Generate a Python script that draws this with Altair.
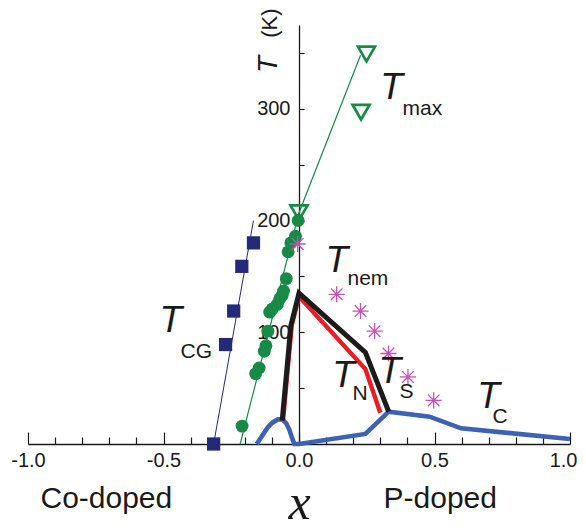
import altair as alt
import pandas as pd

# ---------------- data ----------------
# T_C (blue thick line)
tc_x = [-0.156, -0.134, -0.115, -0.097, -0.078, -0.062, -0.047, -0.035, -0.025, -0.017,
        0.0, 0.245, 0.331, 0.482, 0.598, 1.0]
tc_T = [0, 8, 15, 19.3, 22, 22, 18.5, 12.5, 5, 0,
        0, 9, 29, 24.5, 14, 4.5]

# T_S (black line) and T_N (red line)
ts_x = [-0.062, -0.030, 0.0, 0.245, 0.331]
ts_T = [21, 106, 135, 82, 29]
tn_x = [-0.059, -0.027, 0.0, 0.245, 0.300]
tn_T = [21, 106, 132, 67, 28]

# T_CG (navy squares) and its guide line
cg_x = [-0.315, -0.271, -0.241, -0.211, -0.168]
cg_T = [0, 89, 119, 159, 180]
cg_line_x = [-0.315, -0.168]
cg_line_T = [0, 200]

# green filled dots
gd_x = [-0.210, -0.160, -0.147, -0.128, -0.122, -0.115, -0.108, -0.098, -0.080,
        -0.071, -0.062, -0.057, -0.047, -0.040, -0.030, -0.013, -0.003]
gd_T = [16, 63, 68, 83, 88, 101, 118, 121, 125,
        130, 133, 137, 148, 172, 180, 186, 200]

# green guide line and T_max (open triangles)
gl_x = [-0.217, 0.0, 0.227]
gl_T = [0, 207, 348]
tmax_x = [0.249, 0.229, 0.0]
tmax_T = [349, 297, 207]

# T_nem (magenta asterisks)
nem_x = [-0.005, 0.139, 0.227, 0.279, 0.330, 0.402, 0.497]
nem_T = [179, 134, 119, 101, 81, 60, 39]

# axis ticks
x_label_vals = [-1.0, -0.5, 0.0, 0.5, 1.0]
x_tick_vals = [-1.0, -0.9, -0.8, -0.7, -0.6, -0.5, -0.4, -0.3, -0.2, -0.1, 0.0,
               0.1, 0.2, 0.3, 0.4, 0.5, 0.6, 0.7, 0.8, 0.9, 1.0]
y_label_vals = [100, 200, 300]
y_tick_vals = [50, 100, 150, 200, 250, 300, 350]

# annotation texts
big_T_text = ["T", "T", "T", "T", "T", "T"]
big_T_x = [0.300, -0.515, 0.098, 0.123, 0.293, 0.658]
big_T_y = [308.8, 100.2, 153.9, 51.0, 54.6, 32.2]
sub_text = ["max", "CG", "nem", "N", "S", "C"]
sub_x = [0.382, -0.437, 0.179, 0.197, 0.371, 0.714]
sub_y = [294.5, 77.0, 142.3, 39.4, 41.2, 18.8]
side_text = ["Co-doped", "P-doped"]
side_x = [-0.954, 0.312]
side_y = [-57.3, -57.3]

# ---------------- styling ----------------
W, H = 542, 419
BLUE = "#3d62b3"
BLACK = "#1c1a1a"
RED = "#ec1c24"
GREEN = "#178a45"
NAVY = "#232a7a"
MAGENTA = "#c454b4"
INK = "#1a1a1a"
SANS = "Liberation Sans"

xs = alt.Scale(domain=[-1.0, 1.0], nice=False, zero=False)
ys = alt.Scale(domain=[0, 375], nice=False, zero=False)


def xe(axis=None):
    return alt.X("x:Q", scale=xs, axis=axis, title=None)


def ye(axis=None):
    return alt.Y("T:Q", scale=ys, axis=axis, title=None)


def df(x, T, **extra):
    d = {"x": x, "T": T}
    d.update(extra)
    return pd.DataFrame(d)


LAST = "datum.value > 0.99"

# axes
x_axis_labels = alt.Axis(orient="bottom", values=x_label_vals, ticks=False, tickSize=0,
                         labelPadding=6, labelFont=SANS, labelFontSize=20, labelColor=INK,
                         labelFlush=False, labelOverlap=False,
                         labelAlign={"condition": {"test": LAST, "value": "right"}, "value": "center"},
                         labelOffset={"condition": {"test": LAST, "value": 7}, "value": 0},
                         labelExpr="(datum.value < 0 ? '-' : '') + format(abs(datum.value), '.1f')",
                         domain=True, domainColor=INK, domainWidth=1.3, grid=False)
y_axis_labels = alt.Axis(orient="left", offset=-271, values=y_label_vals, ticks=False, tickSize=0,
                         labelPadding=9, labelFont=SANS, labelFontSize=20, labelColor=INK,
                         labelOverlap=False, domain=True, domainColor=INK, domainWidth=1.3,
                         grid=False)
x_axis_ticks = alt.Axis(orient="top", offset=-H, values=x_tick_vals, labels=False, domain=False,
                        ticks=True, tickColor=INK, tickWidth=1.2,
                        tickSize={"condition": {"test": "abs(datum.value*2 - round(datum.value*2)) < 0.001",
                                                "value": 12}, "value": 7},
                        grid=False)
y_axis_ticks = alt.Axis(orient="right", offset=-271, values=y_tick_vals, labels=False, domain=False,
                        ticks=True, tickColor=INK, tickWidth=1.2, tickSize=5, grid=False)

# lines
cg_line = alt.Chart(df(cg_line_x, cg_line_T)).mark_line(color=NAVY, strokeWidth=1).encode(
    x=xe(), y=ye(), order="x:Q")
green_line = alt.Chart(df(gl_x, gl_T)).mark_line(color=GREEN, strokeWidth=1.2).encode(
    x=xe(), y=ye(), order="x:Q")
blue_line = alt.Chart(df(tc_x, tc_T, i=list(range(len(tc_x))))).mark_line(
    color=BLUE, strokeWidth=4.6).encode(x=xe(x_axis_labels), y=ye(y_axis_labels), order="i:Q")
red_line = alt.Chart(df(tn_x, tn_T, i=list(range(len(tn_x))))).mark_line(
    color=RED, strokeWidth=4.4).encode(x=xe(), y=ye(), order="i:Q")
black_line = alt.Chart(df(ts_x, ts_T, i=list(range(len(ts_x))))).mark_line(
    color=BLACK, strokeWidth=5).encode(x=xe(x_axis_ticks), y=ye(y_axis_ticks), order="i:Q")

# points
squares = alt.Chart(df(cg_x, cg_T)).mark_point(shape="square", filled=True, size=175,
                                                color=NAVY, opacity=1).encode(x=xe(), y=ye())
dots = alt.Chart(df(gd_x, gd_T)).mark_circle(size=165, color=GREEN, opacity=1).encode(
    x=xe(), y=ye())
tris = alt.Chart(df(tmax_x, tmax_T)).mark_point(shape="triangle-down", filled=False, size=290,
                                                 strokeWidth=2.7, color=GREEN, opacity=1).encode(
    x=xe(), y=ye())
STAR = "M0,-1L0,1M-1,0L1,0M-0.72,-0.72L0.72,0.72M-0.72,0.72L0.72,-0.72"
stars = alt.Chart(df(nem_x, nem_T)).mark_point(shape=STAR, filled=False, size=260,
                                                strokeWidth=1.3, color=MAGENTA, opacity=1).encode(
    x=xe(), y=ye())
star_dots = alt.Chart(df(nem_x, nem_T)).mark_circle(size=12, color=MAGENTA, opacity=1).encode(
    x=xe(), y=ye())

# texts
big_T = alt.Chart(df(big_T_x, big_T_y, label=big_T_text)).mark_text(
    font=SANS, fontSize=37, fontStyle="italic", color=INK, align="left", baseline="alphabetic").encode(
    x=xe(), y=ye(), text="label:N")
subs = alt.Chart(df(sub_x, sub_y, label=sub_text)).mark_text(
    font=SANS, fontSize=21, color=INK, align="left", baseline="alphabetic").encode(
    x=xe(), y=ye(), text="label:N")
sides = alt.Chart(df(side_x, side_y, label=side_text)).mark_text(
    font=SANS, fontSize=30, color=INK, align="left", baseline="alphabetic").encode(
    x=xe(), y=ye(), text="label:N")
xvar = alt.Chart(df([0.002], [-67.0], label=["x"])).mark_text(
    font="Liberation Serif", fontSize=50, fontStyle="italic", color=INK, align="center",
    baseline="alphabetic").encode(x=xe(), y=ye(), text="label:N")
ytitle_T = alt.Chart(df([-0.083], [332], label=["T"])).mark_text(
    font=SANS, fontSize=28, fontStyle="italic", color=INK, align="left", baseline="alphabetic",
    angle=270).encode(x=xe(), y=ye(), text="label:N")
ytitle_K = alt.Chart(df([-0.083], [363.5], label=["(K)"])).mark_text(
    font=SANS, fontSize=22, color=INK, align="left", baseline="alphabetic",
    angle=270).encode(x=xe(), y=ye(), text="label:N")

chart = alt.layer(
    cg_line, green_line, blue_line, red_line, black_line,
    squares, dots, tris, stars, star_dots,
    big_T, subs, sides, xvar, ytitle_T, ytitle_K,
).resolve_axis(x="independent", y="independent").properties(
    width=W, height=H,
    background="white",
    autosize=alt.AutoSizeParams(type="none"),
    padding={"left": 20, "top": 17, "right": 8, "bottom": 84},
).configure_view(stroke=None)

chart.save("out.html", embed_options={"renderer": "svg", "actions": False})
